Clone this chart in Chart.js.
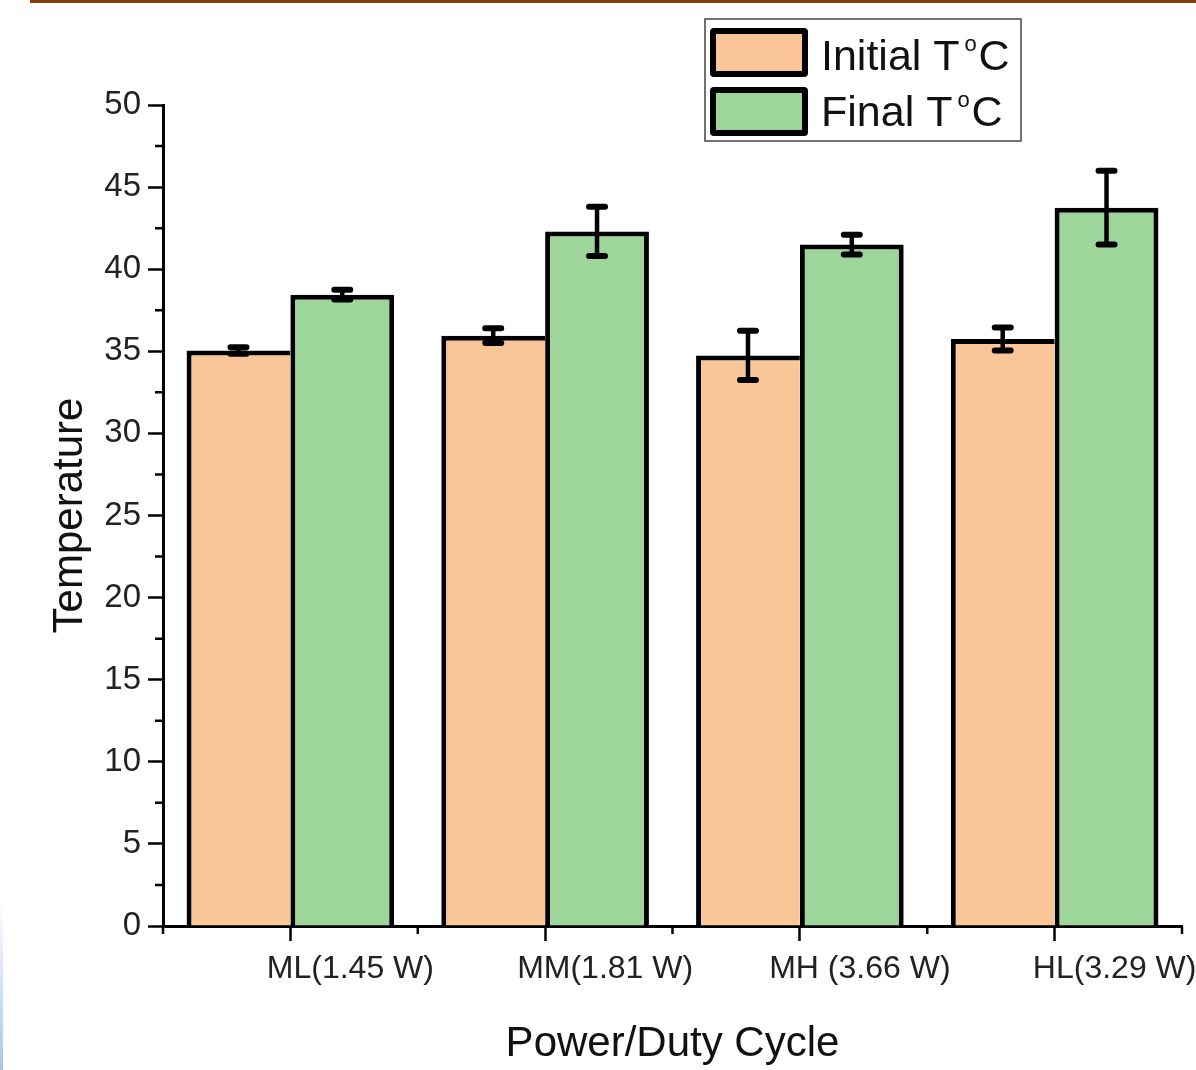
<!DOCTYPE html>
<html>
<head>
<meta charset="utf-8">
<script src="https://cdn.jsdelivr.net/npm/chart.js@4.4.1/dist/chart.umd.min.js"></script>
<style>
  html, body { margin: 0; padding: 0; background: #fff; }
  #wrap { position: relative; width: 1196px; height: 1070px; overflow: hidden; }
  #tempChart { position: absolute; left: 0; top: 0; }
  #topRule { position: absolute; left: 30px; top: 0; width: 1166px; height: 3px; background: #8b3a0a; }
  #sideRule { position: absolute; left: 0; top: 900px; width: 3px; height: 170px; background: linear-gradient(#fff, #a9c3ef); }
</style>
</head>
<body>
<div id="wrap">
  <canvas id="tempChart" width="1196" height="1070"></canvas>
  <div id="topRule"></div>
  <div id="sideRule"></div>
</div>
<script>
// Temperature per power / duty cycle setting
var categories = ['ML(1.45 W)', 'MM(1.81 W)', 'MH (3.66 W)', 'HL(3.29 W)'];
var initialTemp = [35.05, 35.95, 34.75, 35.75];
var initialErr = [0.2, 0.45, 1.5, 0.7];
var finalTemp = [38.45, 42.3, 41.5, 43.75];
var finalErr = [0.3, 1.5, 0.6, 2.25];

var FONT = '"Liberation Sans", Arial, sans-serif';

// error bars drawn on top of each bar
var errorBars = {
    id: 'errorBars',
    afterDatasetsDraw: function(chart) {
        var ctx = chart.ctx, y = chart.scales.y;
        ctx.save();
        ctx.strokeStyle = '#000';
        ctx.lineCap = 'round';
        chart.data.datasets.forEach(function(ds, i) {
            chart.getDatasetMeta(i).data.forEach(function(bar, j) {
                var hi = y.getPixelForValue(ds.data[j] + ds.errors[j]);
                var lo = y.getPixelForValue(ds.data[j] - ds.errors[j]);
                ctx.lineWidth = 4.5;
                ctx.beginPath();
                ctx.moveTo(bar.x, hi);
                ctx.lineTo(bar.x, lo);
                ctx.stroke();
                ctx.lineWidth = 6;
                ctx.beginPath();
                ctx.moveTo(bar.x - 8, hi); ctx.lineTo(bar.x + 8, hi);
                ctx.moveTo(bar.x - 8, lo); ctx.lineTo(bar.x + 8, lo);
                ctx.stroke();
            });
        });
        ctx.restore();
    }
};

// minor ticks on both axes
var minorTicks = {
    id: 'minorTicks',
    afterDraw: function(chart) {
        var ctx = chart.ctx, x = chart.scales.x, y = chart.scales.y;
        var area = chart.chartArea;
        ctx.save();
        ctx.strokeStyle = '#000';
        ctx.lineWidth = 2.5;
        ctx.beginPath();
        for (var k = 0; k < y.ticks.length - 1; k++) {
            var py = y.getPixelForValue((y.ticks[k].value + y.ticks[k + 1].value) / 2);
            ctx.moveTo(area.left - 8, py);
            ctx.lineTo(area.left, py);
        }
        for (var c = 0; c <= categories.length; c++) {
            var px = x.getPixelForValue(c - 0.5);
            ctx.moveTo(px, area.bottom);
            ctx.lineTo(px, area.bottom + 8);
        }
        ctx.stroke();
        ctx.restore();
    }
};

// framed legend in the top right corner
var boxedLegend = {
    id: 'boxedLegend',
    afterDraw: function(chart) {
        var ctx = chart.ctx;
        ctx.save();
        ctx.strokeStyle = '#444';
        ctx.lineWidth = 1.5;
        ctx.strokeRect(705, 19, 316, 122);
        chart.data.datasets.forEach(function(ds, i) {
            var top = 28 + i * 59;
            ctx.fillStyle = '#000';
            ctx.beginPath();
            ctx.roundRect(710, top, 98, 49, 4);
            ctx.fill();
            ctx.fillStyle = ds.backgroundColor;
            ctx.fillRect(716, top + 6, 86, 37);

            var base = 70 + i * 56;
            ctx.fillStyle = '#111';
            ctx.textBaseline = 'alphabetic';
            ctx.font = '43px ' + FONT;
            ctx.fillText(ds.label, 821, base);
            var w = ctx.measureText(ds.label).width;
            ctx.font = '22px ' + FONT;
            ctx.fillText('o', 821 + w + 5, base - 19);
            ctx.font = '43px ' + FONT;
            ctx.fillText('C', 821 + w + 19, base);
        });
        ctx.restore();
    }
};

var ctx = document.getElementById('tempChart').getContext('2d');
var tempChart = new Chart(ctx, {
    type: 'bar',
    data: {
        labels: categories,
        datasets: [{
            label: 'Initial T',
            data: initialTemp,
            errors: initialErr,
            backgroundColor: '#fac597',
            borderColor: '#000',
            borderWidth: { top: 5, left: 5, right: 0, bottom: 0 },
            borderSkipped: false
        }, {
            label: 'Final T',
            data: finalTemp,
            errors: finalErr,
            backgroundColor: '#9dd59a',
            borderColor: '#000',
            borderWidth: { top: 5, left: 5, right: 5, bottom: 0 },
            borderSkipped: false
        }]
    },
    options: {
        responsive: false,
        animation: false,
        categoryPercentage: 0.815,
        barPercentage: 1.0,
        layout: { padding: { top: 105, right: 14, bottom: 0, left: 0 } },
        plugins: {
            legend: { display: false },
            tooltip: { enabled: false }
        },
        scales: {
            x: {
                offset: true,
                grid: { offset: false, drawOnChartArea: false, tickLength: 15, tickWidth: 2.5, tickColor: '#000' },
                border: { color: '#000', width: 3 },
                ticks: {
                    color: '#222',
                    font: { family: FONT, size: 32 },
                    labelOffset: 60,
                    padding: 9,
                    maxRotation: 0,
                    autoSkip: false
                },
                title: {
                    display: true,
                    text: 'Power/Duty Cycle',
                    color: '#111',
                    font: { family: FONT, size: 42 },
                    padding: { top: 2, bottom: 0 }
                },
                afterFit: function(s) { s.height = 144; s.paddingLeft = 0; s.paddingRight = 0; }
            },
            y: {
                min: 0,
                max: 50,
                grid: { drawOnChartArea: false, tickLength: 15, tickWidth: 2.5, tickColor: '#000' },
                border: { color: '#000', width: 3 },
                ticks: {
                    stepSize: 5,
                    color: '#222',
                    font: { family: FONT, size: 33 },
                    padding: 7
                },
                title: {
                    display: true,
                    text: 'Temperature',
                    color: '#111',
                    font: { family: FONT, size: 42 },
                    padding: { top: 45, bottom: 0 }
                },
                afterFit: function(s) { s.width = 163; s.paddingTop = 0; s.paddingBottom = 0; }
            }
        }
    },
    plugins: [errorBars, minorTicks, boxedLegend]
});
</script>
</body>
</html>
